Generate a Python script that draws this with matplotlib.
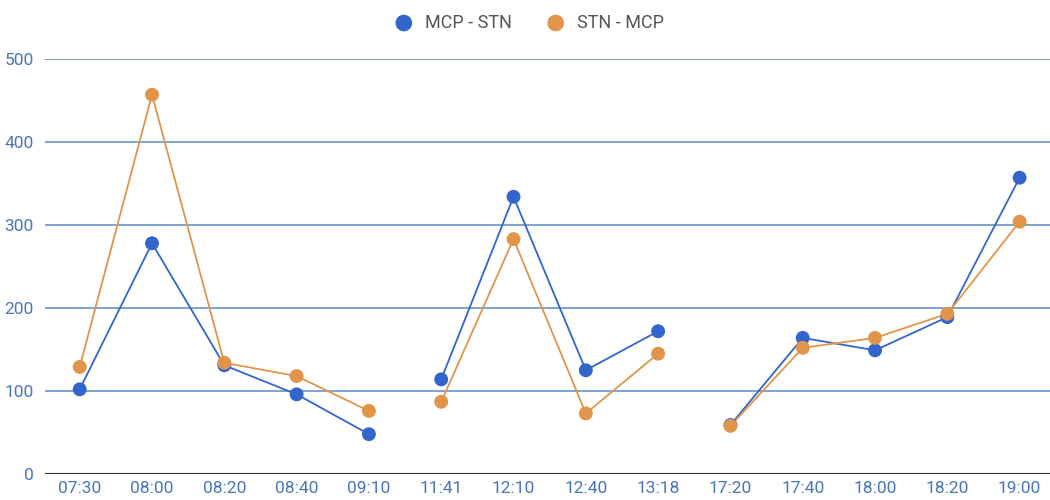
import numpy as np
import matplotlib.pyplot as plt

plt.rcParams['font.family'] = ['Roboto', 'DejaVu Sans']

# ── Data ──────────────────────────────────────────────
times = ['07:30', '08:00', '08:20', '08:40', '09:10', '11:41', '12:10',
         '12:40', '13:18', '17:20', '17:40', '18:00', '18:20', '19:00']
mcp_stn = [102, 278, 131, 96, 48, 114, 334, 125, 172, 59, 164, 149, 189, 357]
stn_mcp = [129, 457, 134, 118, 76, 87, 283, 73, 145, 58, 152, 164, 193, 304]
# lines are broken between these sessions
segments = [(0, 5), (5, 9), (9, 14)]

BLUE = '#3366cc'
ORANGE = '#e0954a'
GRID = '#5b8ac4'
LABEL = '#4a76b8'

fig = plt.figure(figsize=(10.5, 5), dpi=100)
ax = fig.add_axes([45 / 1050, 26 / 500, 1 - 45 / 1050, (474 - 59) / 500])

x = np.arange(len(times))
for vals, col, name in [(mcp_stn, BLUE, 'MCP - STN'), (stn_mcp, ORANGE, 'STN - MCP')]:
    v = np.array(vals, dtype=float)
    for a, b in segments:
        ax.plot(x[a:b], v[a:b], color=col, linewidth=1.3, zorder=3)
    ax.scatter(x, v, s=100, color=col, zorder=4, label=name, edgecolors='none')

ax.set_ylim(0, 500)
ax.set_xlim(-0.48, 13.42)
ax.set_yticks([0, 100, 200, 300, 400, 500])
ax.set_xticks(x)
ax.set_xticklabels(times)
ax.grid(True, axis='y', color=GRID, linewidth=1.1)
ax.get_ygridlines()[0].set_visible(False)
ax.set_axisbelow(True)
ax.axhline(0, color='#333333', linewidth=1.5, zorder=2)
for s in ax.spines.values():
    s.set_visible(False)
ax.tick_params(length=0, labelsize=12.5, colors=LABEL)
ax.tick_params(axis='x', pad=5)
ax.tick_params(axis='y', pad=8)

fig.legend(loc='upper center', bbox_to_anchor=(0.5, 1.005), ncol=2, frameon=False,
           fontsize=13, labelcolor='#555555', handletextpad=0.2, columnspacing=1.4,
           markerscale=1.2)

fig.savefig('out.png', dpi=100)
